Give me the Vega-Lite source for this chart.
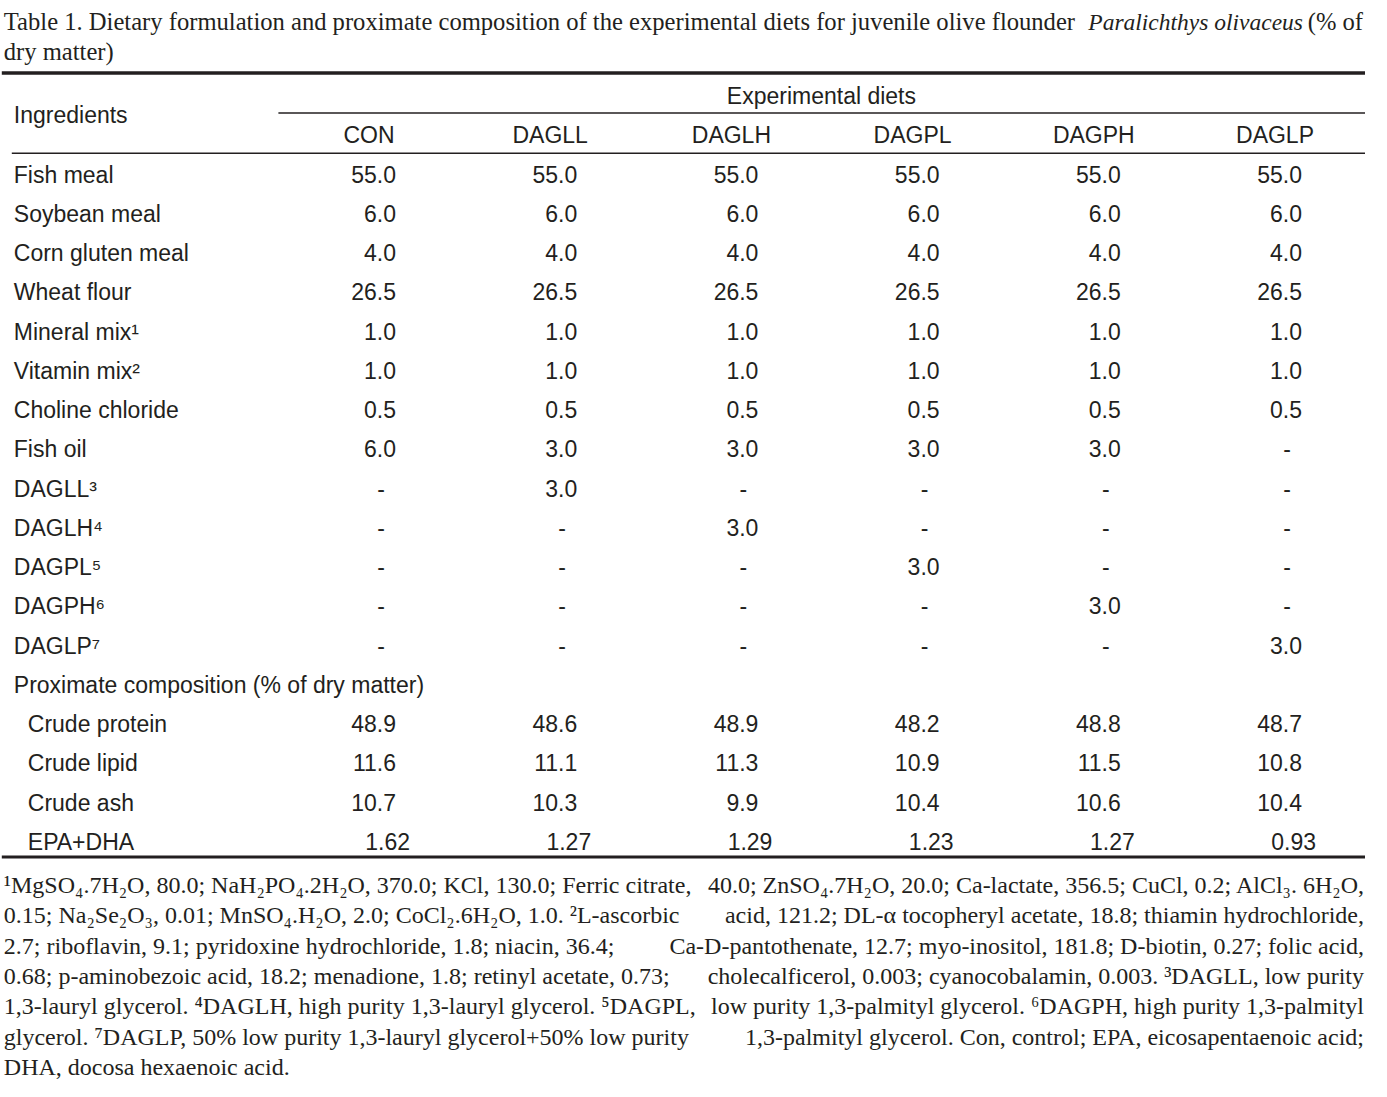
{
  "$schema": "https://vega.github.io/schema/vega-lite/v6.json",
  "width": 1387,
  "height": 1097,
  "autosize": {"type": "fit", "contains": "padding"},
  "padding": 0,
  "background": "white",
  "config": {"view": {"stroke": null}, "text": {"color": "#231f20"}, "rule": {"color": "#231f20"}},
  "datasets": {
    "title": [
      {"line": "t1", "part": "a", "text": "Table 1. Dietary formulation and proximate composition of the experimental diets for juvenile olive flounder"},
      {"line": "t1", "part": "i", "text": "Paralichthys olivaceus"},
      {"line": "t1", "part": "b", "text": "(% of"},
      {"line": "t2", "part": "a", "text": "dry matter)"}
    ],
    "labels": [
      {"row": "Fish meal", "label": "Fish meal", "level": 0},
      {"row": "Soybean meal", "label": "Soybean meal", "level": 0},
      {"row": "Corn gluten meal", "label": "Corn gluten meal", "level": 0},
      {"row": "Wheat flour", "label": "Wheat flour", "level": 0},
      {"row": "Mineral mix", "label": "Mineral mix¹", "level": 0},
      {"row": "Vitamin mix", "label": "Vitamin mix²", "level": 0},
      {"row": "Choline chloride", "label": "Choline chloride", "level": 0},
      {"row": "Fish oil", "label": "Fish oil", "level": 0},
      {"row": "DAGLL", "label": "DAGLL³", "level": 0},
      {"row": "DAGLH", "label": "DAGLH⁴", "level": 0},
      {"row": "DAGPL", "label": "DAGPL⁵", "level": 0},
      {"row": "DAGPH", "label": "DAGPH⁶", "level": 0},
      {"row": "DAGLP", "label": "DAGLP⁷", "level": 0},
      {"row": "Proximate", "label": "Proximate composition (% of dry matter)", "level": 0},
      {"row": "Crude protein", "label": "Crude protein", "level": 1},
      {"row": "Crude lipid", "label": "Crude lipid", "level": 1},
      {"row": "Crude ash", "label": "Crude ash", "level": 1},
      {"row": "EPA+DHA", "label": "EPA+DHA", "level": 1}
    ],
    "heads": [
      {"row": "head", "diet": "Ingredients", "text": "Ingredients"},
      {"row": "head", "diet": "CON", "text": "CON"},
      {"row": "head", "diet": "DAGLL", "text": "DAGLL"},
      {"row": "head", "diet": "DAGLH", "text": "DAGLH"},
      {"row": "head", "diet": "DAGPL", "text": "DAGPL"},
      {"row": "head", "diet": "DAGPH", "text": "DAGPH"},
      {"row": "head", "diet": "DAGLP", "text": "DAGLP"},
      {"row": "exp", "diet": "DAGLH", "text": "Experimental diets"}
    ],
    "rules": [
      {"rule": "top", "row": "exp", "from": "Ingredients", "to": "DAGLP"},
      {"rule": "diets", "row": "exp", "from": "CON", "to": "DAGLP"},
      {"rule": "head", "row": "head", "from": "Ingredients", "to": "DAGLP"},
      {"rule": "bottom", "row": "EPA+DHA", "from": "Ingredients", "to": "DAGLP"}
    ],
    "cells": [
      {"row": "Fish meal", "diet": "CON", "value": 55.0},
      {"row": "Fish meal", "diet": "DAGLL", "value": 55.0},
      {"row": "Fish meal", "diet": "DAGLH", "value": 55.0},
      {"row": "Fish meal", "diet": "DAGPL", "value": 55.0},
      {"row": "Fish meal", "diet": "DAGPH", "value": 55.0},
      {"row": "Fish meal", "diet": "DAGLP", "value": 55.0},
      {"row": "Soybean meal", "diet": "CON", "value": 6.0},
      {"row": "Soybean meal", "diet": "DAGLL", "value": 6.0},
      {"row": "Soybean meal", "diet": "DAGLH", "value": 6.0},
      {"row": "Soybean meal", "diet": "DAGPL", "value": 6.0},
      {"row": "Soybean meal", "diet": "DAGPH", "value": 6.0},
      {"row": "Soybean meal", "diet": "DAGLP", "value": 6.0},
      {"row": "Corn gluten meal", "diet": "CON", "value": 4.0},
      {"row": "Corn gluten meal", "diet": "DAGLL", "value": 4.0},
      {"row": "Corn gluten meal", "diet": "DAGLH", "value": 4.0},
      {"row": "Corn gluten meal", "diet": "DAGPL", "value": 4.0},
      {"row": "Corn gluten meal", "diet": "DAGPH", "value": 4.0},
      {"row": "Corn gluten meal", "diet": "DAGLP", "value": 4.0},
      {"row": "Wheat flour", "diet": "CON", "value": 26.5},
      {"row": "Wheat flour", "diet": "DAGLL", "value": 26.5},
      {"row": "Wheat flour", "diet": "DAGLH", "value": 26.5},
      {"row": "Wheat flour", "diet": "DAGPL", "value": 26.5},
      {"row": "Wheat flour", "diet": "DAGPH", "value": 26.5},
      {"row": "Wheat flour", "diet": "DAGLP", "value": 26.5},
      {"row": "Mineral mix", "diet": "CON", "value": 1.0},
      {"row": "Mineral mix", "diet": "DAGLL", "value": 1.0},
      {"row": "Mineral mix", "diet": "DAGLH", "value": 1.0},
      {"row": "Mineral mix", "diet": "DAGPL", "value": 1.0},
      {"row": "Mineral mix", "diet": "DAGPH", "value": 1.0},
      {"row": "Mineral mix", "diet": "DAGLP", "value": 1.0},
      {"row": "Vitamin mix", "diet": "CON", "value": 1.0},
      {"row": "Vitamin mix", "diet": "DAGLL", "value": 1.0},
      {"row": "Vitamin mix", "diet": "DAGLH", "value": 1.0},
      {"row": "Vitamin mix", "diet": "DAGPL", "value": 1.0},
      {"row": "Vitamin mix", "diet": "DAGPH", "value": 1.0},
      {"row": "Vitamin mix", "diet": "DAGLP", "value": 1.0},
      {"row": "Choline chloride", "diet": "CON", "value": 0.5},
      {"row": "Choline chloride", "diet": "DAGLL", "value": 0.5},
      {"row": "Choline chloride", "diet": "DAGLH", "value": 0.5},
      {"row": "Choline chloride", "diet": "DAGPL", "value": 0.5},
      {"row": "Choline chloride", "diet": "DAGPH", "value": 0.5},
      {"row": "Choline chloride", "diet": "DAGLP", "value": 0.5},
      {"row": "Fish oil", "diet": "CON", "value": 6.0},
      {"row": "Fish oil", "diet": "DAGLL", "value": 3.0},
      {"row": "Fish oil", "diet": "DAGLH", "value": 3.0},
      {"row": "Fish oil", "diet": "DAGPL", "value": 3.0},
      {"row": "Fish oil", "diet": "DAGPH", "value": 3.0},
      {"row": "Fish oil", "diet": "DAGLP", "value": null},
      {"row": "DAGLL", "diet": "CON", "value": null},
      {"row": "DAGLL", "diet": "DAGLL", "value": 3.0},
      {"row": "DAGLL", "diet": "DAGLH", "value": null},
      {"row": "DAGLL", "diet": "DAGPL", "value": null},
      {"row": "DAGLL", "diet": "DAGPH", "value": null},
      {"row": "DAGLL", "diet": "DAGLP", "value": null},
      {"row": "DAGLH", "diet": "CON", "value": null},
      {"row": "DAGLH", "diet": "DAGLL", "value": null},
      {"row": "DAGLH", "diet": "DAGLH", "value": 3.0},
      {"row": "DAGLH", "diet": "DAGPL", "value": null},
      {"row": "DAGLH", "diet": "DAGPH", "value": null},
      {"row": "DAGLH", "diet": "DAGLP", "value": null},
      {"row": "DAGPL", "diet": "CON", "value": null},
      {"row": "DAGPL", "diet": "DAGLL", "value": null},
      {"row": "DAGPL", "diet": "DAGLH", "value": null},
      {"row": "DAGPL", "diet": "DAGPL", "value": 3.0},
      {"row": "DAGPL", "diet": "DAGPH", "value": null},
      {"row": "DAGPL", "diet": "DAGLP", "value": null},
      {"row": "DAGPH", "diet": "CON", "value": null},
      {"row": "DAGPH", "diet": "DAGLL", "value": null},
      {"row": "DAGPH", "diet": "DAGLH", "value": null},
      {"row": "DAGPH", "diet": "DAGPL", "value": null},
      {"row": "DAGPH", "diet": "DAGPH", "value": 3.0},
      {"row": "DAGPH", "diet": "DAGLP", "value": null},
      {"row": "DAGLP", "diet": "CON", "value": null},
      {"row": "DAGLP", "diet": "DAGLL", "value": null},
      {"row": "DAGLP", "diet": "DAGLH", "value": null},
      {"row": "DAGLP", "diet": "DAGPL", "value": null},
      {"row": "DAGLP", "diet": "DAGPH", "value": null},
      {"row": "DAGLP", "diet": "DAGLP", "value": 3.0},
      {"row": "Crude protein", "diet": "CON", "value": 48.9},
      {"row": "Crude protein", "diet": "DAGLL", "value": 48.6},
      {"row": "Crude protein", "diet": "DAGLH", "value": 48.9},
      {"row": "Crude protein", "diet": "DAGPL", "value": 48.2},
      {"row": "Crude protein", "diet": "DAGPH", "value": 48.8},
      {"row": "Crude protein", "diet": "DAGLP", "value": 48.7},
      {"row": "Crude lipid", "diet": "CON", "value": 11.6},
      {"row": "Crude lipid", "diet": "DAGLL", "value": 11.1},
      {"row": "Crude lipid", "diet": "DAGLH", "value": 11.3},
      {"row": "Crude lipid", "diet": "DAGPL", "value": 10.9},
      {"row": "Crude lipid", "diet": "DAGPH", "value": 11.5},
      {"row": "Crude lipid", "diet": "DAGLP", "value": 10.8},
      {"row": "Crude ash", "diet": "CON", "value": 10.7},
      {"row": "Crude ash", "diet": "DAGLL", "value": 10.3},
      {"row": "Crude ash", "diet": "DAGLH", "value": 9.9},
      {"row": "Crude ash", "diet": "DAGPL", "value": 10.4},
      {"row": "Crude ash", "diet": "DAGPH", "value": 10.6},
      {"row": "Crude ash", "diet": "DAGLP", "value": 10.4},
      {"row": "EPA+DHA", "diet": "CON", "value": 1.62},
      {"row": "EPA+DHA", "diet": "DAGLL", "value": 1.27},
      {"row": "EPA+DHA", "diet": "DAGLH", "value": 1.29},
      {"row": "EPA+DHA", "diet": "DAGPL", "value": 1.23},
      {"row": "EPA+DHA", "diet": "DAGPH", "value": 1.27},
      {"row": "EPA+DHA", "diet": "DAGLP", "value": 0.93}
    ],
    "notes": [
      {"line": "f1", "left": "¹MgSO₄.7H₂O, 80.0; NaH₂PO₄.2H₂O, 370.0; KCl, 130.0; Ferric citrate,", "right": "40.0; ZnSO₄.7H₂O, 20.0; Ca-lactate, 356.5; CuCl, 0.2; AlCl₃. 6H₂O,"},
      {"line": "f2", "left": "0.15; Na₂Se₂O₃, 0.01; MnSO₄.H₂O, 2.0; CoCl₂.6H₂O, 1.0. ²L-ascorbic", "right": "acid, 121.2; DL-α tocopheryl acetate, 18.8; thiamin hydrochloride,"},
      {"line": "f3", "left": "2.7; riboflavin, 9.1; pyridoxine hydrochloride, 1.8; niacin, 36.4;", "right": "Ca-D-pantothenate, 12.7; myo-inositol, 181.8; D-biotin, 0.27; folic acid,"},
      {"line": "f4", "left": "0.68; p-aminobezoic acid, 18.2; menadione, 1.8; retinyl acetate, 0.73;", "right": "cholecalficerol, 0.003; cyanocobalamin, 0.003. ³DAGLL, low purity"},
      {"line": "f5", "left": "1,3-lauryl glycerol. ⁴DAGLH, high purity 1,3-lauryl glycerol. ⁵DAGPL,", "right": "low purity 1,3-palmityl glycerol. ⁶DAGPH, high purity 1,3-palmityl"},
      {"line": "f6", "left": "glycerol. ⁷DAGLP, 50% low purity 1,3-lauryl glycerol+50% low purity", "right": "1,3-palmityl glycerol. Con, control; EPA, eicosapentaenoic acid;"},
      {"line": "f7", "left": "DHA, docosa hexaenoic acid.", "right": null}
    ]
  },
  "resolve": {"scale": {"y": "independent"}},
  "layer": [
    {
      "data": {"name": "title"},
      "encoding": {
        "y": {"field": "line", "type": "nominal", "axis": null,
              "scale": {"type": "point", "domain": ["t1", "t2"], "range": [23, 53], "padding": 0}},
        "text": {"field": "text"}
      },
      "layer": [
        {
          "transform": [{"filter": "datum.part == 'a'"}],
          "mark": {"type": "text", "align": "left", "baseline": "middle", "font": "Liberation Serif, Times New Roman, serif", "fontSize": 24.6, "dx": -184},
          "encoding": {"x": {"datum": "Ingredients", "axis": null, "scale": {"type": "point", "domain": ["Ingredients", "CON", "DAGLL", "DAGLH", "DAGPL", "DAGPH", "DAGLP"], "range": [186.8, 1274], "padding": 0}}}
        },
        {
          "transform": [{"filter": "datum.part == 'i'"}],
          "mark": {"type": "text", "align": "right", "baseline": "middle", "font": "Liberation Serif, Times New Roman, serif", "fontSize": 23.5, "fontStyle": "italic", "dx": 28},
          "encoding": {"x": {"datum": "DAGLP"}}
        },
        {
          "transform": [{"filter": "datum.part == 'b'"}],
          "mark": {"type": "text", "align": "right", "baseline": "middle", "font": "Liberation Serif, Times New Roman, serif", "fontSize": 24.6, "dx": 88},
          "encoding": {"x": {"datum": "DAGLP"}}
        }
      ]
    },
    {
      "layer": [
        {
          "data": {"name": "rules"},
          "transform": [{"filter": "datum.rule == 'top'"}],
          "mark": {"type": "rule", "strokeWidth": 3.5, "yOffset": -24, "xOffset": -186, "x2Offset": 90},
          "encoding": {
            "x": {"field": "from", "type": "nominal", "axis": null},
            "x2": {"field": "to"},
            "y": {"field": "row", "type": "nominal", "axis": null,
                  "scale": {"type": "point", "domain": ["exp", "head", "Fish meal", "Soybean meal", "Corn gluten meal", "Wheat flour", "Mineral mix", "Vitamin mix", "Choline chloride", "Fish oil", "DAGLL", "DAGLH", "DAGPL", "DAGPH", "DAGLP", "Proximate", "Crude protein", "Crude lipid", "Crude ash", "EPA+DHA"], "range": [97, 843], "padding": 0}}
          }
        },
        {
          "data": {"name": "rules"},
          "transform": [{"filter": "datum.rule == 'diets'"}],
          "mark": {"type": "rule", "strokeWidth": 1.5, "yOffset": 16, "xOffset": -90.6, "x2Offset": 90},
          "encoding": {
            "x": {"field": "from", "type": "nominal"},
            "x2": {"field": "to"},
            "y": {"field": "row", "type": "nominal"}
          }
        },
        {
          "data": {"name": "rules"},
          "transform": [{"filter": "datum.rule == 'head'"}],
          "mark": {"type": "rule", "strokeWidth": 1.5, "yOffset": 17, "xOffset": -176, "x2Offset": 90},
          "encoding": {
            "x": {"field": "from", "type": "nominal"},
            "x2": {"field": "to"},
            "y": {"field": "row", "type": "nominal"}
          }
        },
        {
          "data": {"name": "rules"},
          "transform": [{"filter": "datum.rule == 'bottom'"}],
          "mark": {"type": "rule", "strokeWidth": 3, "yOffset": 14, "xOffset": -186, "x2Offset": 90},
          "encoding": {
            "x": {"field": "from", "type": "nominal"},
            "x2": {"field": "to"},
            "y": {"field": "row", "type": "nominal"}
          }
        },
        {
          "data": {"name": "labels"},
          "transform": [{"filter": "datum.level == 0"}],
          "mark": {"type": "text", "align": "left", "baseline": "middle", "font": "Liberation Sans, Arial, sans-serif", "fontSize": 23, "dx": -174},
          "encoding": {
            "x": {"datum": "Ingredients"},
            "y": {"field": "row", "type": "nominal"},
            "text": {"field": "label"}
          }
        },
        {
          "data": {"name": "labels"},
          "transform": [{"filter": "datum.level == 1"}],
          "mark": {"type": "text", "align": "left", "baseline": "middle", "font": "Liberation Sans, Arial, sans-serif", "fontSize": 23, "dx": -160},
          "encoding": {
            "x": {"datum": "Ingredients"},
            "y": {"field": "row", "type": "nominal"},
            "text": {"field": "label"}
          }
        },
        {
          "data": {"name": "heads"},
          "transform": [{"filter": "datum.diet == 'Ingredients'"}],
          "mark": {"type": "text", "align": "left", "baseline": "middle", "font": "Liberation Sans, Arial, sans-serif", "fontSize": 23, "dx": -174, "dy": -20},
          "encoding": {
            "x": {"field": "diet", "type": "nominal"},
            "y": {"field": "row", "type": "nominal"},
            "text": {"field": "text"}
          }
        },
        {
          "data": {"name": "heads"},
          "transform": [{"filter": "datum.diet != 'Ingredients' && datum.row == 'head'"}],
          "mark": {"type": "text", "align": "center", "baseline": "middle", "font": "Liberation Sans, Arial, sans-serif", "fontSize": 23},
          "encoding": {
            "x": {"field": "diet", "type": "nominal"},
            "y": {"field": "row", "type": "nominal"},
            "text": {"field": "text"}
          }
        },
        {
          "data": {"name": "heads"},
          "transform": [{"filter": "datum.row == 'exp'"}],
          "mark": {"type": "text", "align": "center", "baseline": "middle", "font": "Liberation Sans, Arial, sans-serif", "fontSize": 23, "dx": 90},
          "encoding": {
            "x": {"field": "diet", "type": "nominal"},
            "y": {"field": "row", "type": "nominal"},
            "text": {"field": "text"}
          }
        },
        {
          "data": {"name": "cells"},
          "transform": [{"filter": "datum.value != null && datum.row != 'EPA+DHA'"}],
          "mark": {"type": "text", "align": "right", "baseline": "middle", "font": "Liberation Sans, Arial, sans-serif", "fontSize": 23, "dx": 27},
          "encoding": {
            "x": {"field": "diet", "type": "nominal"},
            "y": {"field": "row", "type": "nominal"},
            "text": {"field": "value", "type": "quantitative", "format": ".1f"}
          }
        },
        {
          "data": {"name": "cells"},
          "transform": [{"filter": "datum.row == 'EPA+DHA'"}],
          "mark": {"type": "text", "align": "right", "baseline": "middle", "font": "Liberation Sans, Arial, sans-serif", "fontSize": 23, "dx": 41},
          "encoding": {
            "x": {"field": "diet", "type": "nominal"},
            "y": {"field": "row", "type": "nominal"},
            "text": {"field": "value", "type": "quantitative", "format": ".2f"}
          }
        },
        {
          "data": {"name": "cells"},
          "transform": [{"filter": "datum.value == null"}],
          "mark": {"type": "text", "align": "center", "baseline": "middle", "font": "Liberation Sans, Arial, sans-serif", "fontSize": 23, "dx": 12},
          "encoding": {
            "x": {"field": "diet", "type": "nominal"},
            "y": {"field": "row", "type": "nominal"},
            "text": {"value": "-"}
          }
        }
      ]
    },
    {
      "data": {"name": "notes"},
      "encoding": {
        "y": {"field": "line", "type": "nominal", "axis": null,
              "scale": {"type": "point", "domain": ["f1", "f2", "f3", "f4", "f5", "f6", "f7"], "range": [886, 1068], "padding": 0}}
      },
      "layer": [
        {
          "mark": {"type": "text", "align": "left", "baseline": "middle", "font": "Liberation Serif, Times New Roman, serif", "fontSize": 24, "dx": -184},
          "encoding": {"x": {"datum": "Ingredients"}, "text": {"field": "left"}}
        },
        {
          "transform": [{"filter": "datum.right != null"}],
          "mark": {"type": "text", "align": "right", "baseline": "middle", "font": "Liberation Serif, Times New Roman, serif", "fontSize": 24, "dx": 89},
          "encoding": {"x": {"datum": "DAGLP"}, "text": {"field": "right"}}
        }
      ]
    }
  ]
}
